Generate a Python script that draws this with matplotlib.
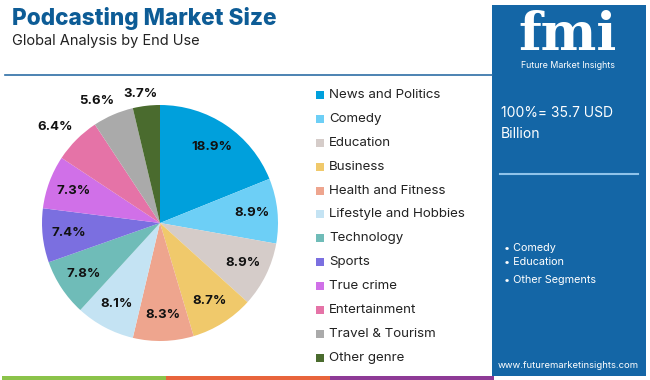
import matplotlib
matplotlib.use("Agg")
import matplotlib.pyplot as plt
import numpy as np
from matplotlib.patches import Rectangle

categories = ["News and Politics", "Comedy", "Education", "Business", "Health and Fitness",
              "Lifestyle and Hobbies", "Technology", "Sports", "True crime", "Entertainment",
              "Travel & Tourism", "Other genre"]
shares = [18.9, 8.9, 8.9, 8.7, 8.3, 8.1, 7.8, 7.4, 7.3, 6.4, 5.6, 3.7]
colors = ["#00a0dc", "#6dcff6", "#d5ccc9", "#f0c96b", "#eea58e", "#c4e3f3",
          "#6fbcb8", "#7b6fe0", "#d070e8", "#e573a7", "#aaaaaa", "#4a6b2e"]
outside = {"Entertainment": (1.2, 2.5), "Travel & Tourism": (1.16, 4.0), "Other genre": (1.11, 2.0)}
side_bullets = ["Comedy", "Education", "Other Segments"]
total_text = ["100%= 35.7 USD", "Billion"]

plt.rcParams['font.family'] = ['Inter', 'DejaVu Sans']
W, H = 650, 380
fig = plt.figure(figsize=(6.5, 3.8), dpi=100)
fig.patch.set_facecolor("white")

def fx(x): return x / W
def fy(y): return 1 - y / H

# Title
fig.text(fx(12), fy(19), "Podcasting Market Size", fontsize=16.3, fontweight="heavy",
         color="#0d5c96", va="center", ha="left")
fig.text(fx(12), fy(41), "Global Analysis by End Use", fontsize=10.5,
         color="#222222", va="center", ha="left")
fig.add_artist(plt.Line2D([fx(5), fx(492)], [fy(75), fy(75)], color="#2d6ea6", lw=1.2))

# Right panel
panel = "#1466a6"
fig.add_artist(Rectangle((fx(492), fy(376)), fx(154), 371 / H, transform=fig.transFigure,
                         facecolor=panel, edgecolor="none"))
fig.text(fx(568), fy(35), "fmi", fontsize=38, fontweight="bold", color="white",
         ha="center", va="center", family=["DejaVu Serif"])
fig.text(fx(568), fy(66), "Future Market Insights", fontsize=6.4, color="white",
         ha="center", va="center")
fig.text(fx(501), fy(113), total_text[0], fontsize=10, color="white", ha="left", va="center")
fig.text(fx(501), fy(134), total_text[1], fontsize=10, color="white", ha="left", va="center")
fig.add_artist(plt.Line2D([fx(500), fx(638)], [fy(174), fy(174)], color="#8fc3ea", lw=1.5))
for i, b in enumerate(side_bullets):
    yy = [248, 262, 280][i]
    fig.text(fx(504), fy(yy), "\u2022 " + b, fontsize=7.8, color="white", ha="left", va="center")
fig.text(fx(568), fy(365), "www.futuremarketinsights.com", fontsize=6.8, color="white",
         ha="center", va="center")

# Bottom bars
for i, c in enumerate(["#8bc34a", "#e8643c", "#8e3a96"]):
    fig.add_artist(Rectangle((fx(2 + 164 * i), 0), fx(164), 4 / H, transform=fig.transFigure,
                             facecolor=c, edgecolor="none"))

# Pie
cx, cy, r = 160, 223, 118
ax = fig.add_axes([fx(cx - r), fy(cy + r), (2 * r) / W, (2 * r) / H])
wedges, _ = ax.pie(shares, colors=colors, startangle=90, counterclock=False, radius=1,
                   wedgeprops=dict(linewidth=0))
ax.set_xlim(-1, 1)
ax.set_ylim(-1, 1)
ax.set_aspect("equal")
ax.axis("off")
for w, cat, v in zip(wedges, categories, shares):
    mid = (w.theta1 + w.theta2) / 2
    d = 0.78
    if cat in outside:
        d, off = outside[cat]
        mid += off
    ang = np.deg2rad(mid)
    ax.text(d * np.cos(ang), d * np.sin(ang), f"{v}%", ha="center", va="center",
            fontsize=9.5, fontweight="bold", color="#111111")

# Legend
for i, (cat, c) in enumerate(zip(categories, colors)):
    y = 95 + i * 23.9
    fig.add_artist(Rectangle((fx(316), fy(y + 4)), fx(8), 8 / H, transform=fig.transFigure,
                             facecolor=c, edgecolor="none"))
    fig.text(fx(329), fy(y), cat, fontsize=9.6, color="#222222", ha="left", va="center")

fig.savefig("out.png", dpi=100, facecolor="white")
